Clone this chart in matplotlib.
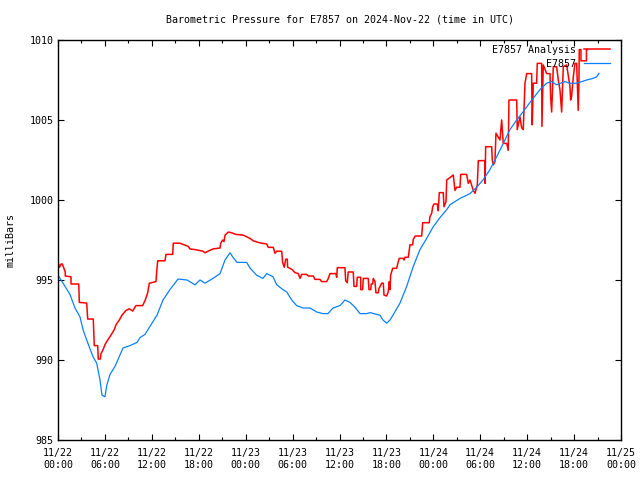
import matplotlib
matplotlib.use("Agg")
import matplotlib.pyplot as plt
from matplotlib.ticker import MultipleLocator, FixedLocator

# hours since 2024-11-22 00:00 UTC
blue_hours = [0.0, 0.90, 1.53, 2.17, 2.81, 3.20, 3.67, 4.48, 4.95, 5.37, 5.63, 6.01, 6.23, 6.65,
              7.29, 8.31, 9.21, 10.10, 10.49, 11.13, 11.76, 12.66, 13.43, 14.32, 15.35, 16.50,
              17.52, 18.16, 18.80, 19.82, 20.72, 21.36, 22.0, 22.4, 22.9, 24.13, 24.55, 25.4,
              26.2, 26.7, 27.5, 27.97, 28.77, 29.25, 29.89, 30.52, 31.33, 32.23, 33.08, 33.89,
              34.53, 35.17, 36.06, 36.70, 37.34, 37.98, 38.62, 39.47, 39.90, 41.18, 41.56, 42.03,
              42.46, 42.84, 43.73, 44.59, 45.40, 46.29, 47.15, 47.95, 48.85, 49.71, 50.13, 51.41,
              52.69, 53.54, 54.35, 55.24, 56.10, 56.91, 57.80, 58.66, 59.46, 60.36, 61.64, 62.49,
              63.13, 63.77, 64.83, 65.47, 66.33, 66.97, 67.61, 68.41, 68.89, 69.18]
blue_mb = [995.3, 994.6, 994.1, 993.25, 992.7, 991.9, 991.25, 990.2, 989.8, 988.75, 987.8, 987.7,
           988.4, 989.1, 989.6, 990.75, 990.9, 991.1, 991.4, 991.6, 992.1, 992.8, 993.75, 994.4,
           995.06, 995.0, 994.7, 995.0, 994.8, 995.1, 995.4, 996.25, 996.7, 996.4, 996.1, 996.1,
           995.75, 995.3, 995.1, 995.4, 995.2, 994.7, 994.4, 994.25, 993.75, 993.4, 993.25,
           993.25, 993.0, 992.9, 992.9, 993.25, 993.4, 993.75, 993.6, 993.3, 992.9, 992.9,
           992.96, 992.8, 992.5, 992.3, 992.5, 992.8, 993.55, 994.6, 995.8, 996.9, 997.6, 998.3,
           998.9, 999.4, 999.7, 1000.1, 1000.4, 1000.8, 1001.25, 1001.9, 1002.7, 1003.5, 1004.4,
           1005.0, 1005.5, 1006.1, 1006.9, 1007.3, 1007.4, 1007.2, 1007.4, 1007.3, 1007.3,
           1007.4, 1007.5, 1007.6, 1007.7, 1007.9]

red_hours = [0.0, 0.2, 0.4, 0.55, 0.93, 0.93, 1.66, 1.66, 2.65, 2.73, 3.67, 3.80, 4.51, 4.64,
             5.08, 5.15, 5.41, 5.50, 5.72, 6.05, 6.36, 6.78, 7.20, 7.42, 7.84, 8.18, 8.70, 9.12,
             9.55, 9.97, 10.83, 11.16, 11.47, 11.68, 12.53, 12.62, 12.75, 13.68, 13.81, 14.67,
             14.74, 15.60, 16.66, 16.88, 17.52, 18.54, 18.80, 19.18, 19.82, 20.72, 20.81, 21.06,
             21.23, 21.36, 21.78, 22.21, 22.76, 23.70, 24.13, 24.55, 24.97, 25.61, 26.05, 26.69,
             26.89, 27.53, 27.75, 27.97, 28.61, 28.73, 28.94, 29.12, 29.32, 29.37, 29.89, 30.31,
             30.73, 30.95, 31.16, 31.80, 32.01, 32.65, 32.86, 33.50, 33.72, 34.36, 34.57, 34.78,
             35.55, 35.64, 35.72, 36.70, 36.79, 36.99, 37.12, 37.76, 37.85, 38.20, 38.27, 38.71,
             38.71, 38.96, 39.04, 39.68, 39.77, 39.99, 40.06, 40.24, 40.32, 40.54, 40.66, 40.96,
             41.05, 41.18, 41.39, 41.60, 41.69, 42.03, 42.24, 42.37, 42.46, 42.54, 42.80, 43.31,
             43.52, 43.64, 44.16, 44.25, 44.37, 44.80, 45.01, 45.36, 45.43, 45.69, 46.51, 46.64,
             47.48, 47.57, 47.79, 47.92, 48.08, 48.50, 48.63, 48.76, 49.27, 49.36, 49.62, 49.71,
             50.55, 50.77, 50.98, 51.41, 51.50, 52.26, 52.47, 52.69, 53.11, 53.33, 53.62, 53.75,
             54.60, 54.62, 54.69, 55.46, 55.54, 55.67, 55.88, 56.01, 56.52, 56.74, 56.94, 57.38,
             57.58, 57.67, 58.66, 58.73, 59.08, 59.30, 59.50, 59.72, 59.94, 60.57, 60.65, 60.78,
             61.21, 61.29, 61.85, 61.89, 62.06, 62.49, 62.92, 63.00, 63.13, 63.26, 63.34, 63.77,
             63.98, 64.19, 64.41, 64.62, 65.05, 65.47, 65.56, 65.69, 65.90, 66.11, 66.33, 66.41,
             66.53, 66.62, 66.66, 66.88, 66.88, 67.58, 67.58, 67.71]
red_mb = [996.1, 995.8, 996.0, 996.0, 995.5, 995.25, 995.2, 994.75, 994.75, 993.6, 993.56, 992.56,
          992.56, 990.9, 990.9, 990.06, 990.06, 990.4, 990.6, 991.0, 991.25, 991.56, 991.9, 992.2,
          992.5, 992.8, 993.1, 993.2, 993.06, 993.4, 993.4, 993.75, 994.2, 994.8, 994.9, 995.5,
          996.2, 996.2, 996.6, 996.6, 997.3, 997.3, 997.1, 996.94, 996.9, 996.8, 996.7, 996.8,
          996.94, 997.0, 997.3, 997.5, 997.4, 997.8, 998.0, 997.95, 997.85, 997.8, 997.7, 997.6,
          997.45, 997.35, 997.3, 997.25, 997.04, 997.04, 996.67, 996.8, 996.8, 996.1, 995.8,
          996.3, 996.3, 995.8, 995.67, 995.46, 995.4, 995.1, 995.35, 995.35, 995.25, 995.25,
          995.04, 995.04, 994.9, 994.9, 995.1, 995.4, 995.4, 995.17, 995.77, 995.77, 994.94,
          994.83, 995.5, 995.5, 994.6, 994.6, 995.17, 995.17, 994.4, 994.4, 995.1, 995.1, 994.4,
          994.4, 994.75, 994.75, 995.1, 994.9, 994.2, 994.2, 994.48, 994.58, 994.8, 994.8, 994.06,
          994.0, 994.27, 994.9, 994.4, 995.3, 995.73, 995.73, 996.15, 996.35, 996.35, 996.25,
          996.42, 996.42, 997.2, 997.2, 997.54, 997.75, 997.75, 998.58, 998.58, 998.96, 999.17,
          999.58, 999.75, 999.75, 999.33, 1000.46, 1000.46, 999.58, 999.9, 1001.25, 1001.56,
          1000.6, 1000.8, 1000.8, 1001.6, 1001.6, 1001.04, 1001.25, 1000.6, 1000.42, 1000.94,
          1002.46, 1002.46, 1001.04, 1003.33, 1003.33, 1002.5, 1002.2, 1002.4, 1004.17, 1003.75,
          1005.0, 1003.54, 1003.54, 1003.1, 1006.25, 1006.25, 1004.4, 1005.2, 1004.5, 1004.4,
          1007.3, 1007.9, 1007.9, 1004.7, 1007.3, 1007.3, 1008.54, 1008.54, 1004.6, 1008.44,
          1007.9, 1007.9, 1006.46, 1005.5, 1007.1, 1008.33, 1008.33, 1007.5, 1006.9, 1005.5,
          1008.33, 1008.44, 1007.1, 1006.25, 1006.5, 1007.7, 1008.54, 1008.54, 1007.3, 1005.6,
          1007.3, 1009.4, 1009.4, 1008.7, 1008.7, 1009.4, 1009.4]

xtick_hours = [0, 6, 12, 18, 24, 30, 36, 42, 48, 54, 60, 66, 72]
xtick_labels = ["11/22\n00:00", "11/22\n06:00", "11/22\n12:00", "11/22\n18:00",
                "11/23\n00:00", "11/23\n06:00", "11/23\n12:00", "11/23\n18:00",
                "11/24\n00:00", "11/24\n06:00", "11/24\n12:00", "11/24\n18:00",
                "11/25\n00:00"]
ytick_values = [985, 990, 995, 1000, 1005, 1010]

title = "Barometric Pressure for E7857 on 2024-Nov-22 (time in UTC)"
series_labels = ["E7857 Analysis", "E7857"]

plt.rcParams['font.family'] = ['DejaVu Sans Mono']
FS = 7.2

fig = plt.figure(figsize=(6.4, 4.8), dpi=100)
ax = fig.add_axes([58/640, 1 - 440/480, (621 - 58)/640, 400/480])

ax.plot(red_hours, red_mb, color='#ff0000', lw=1.1, label=series_labels[0])
ax.plot(blue_hours, blue_mb, color='#0a80ff', lw=0.9, label=series_labels[1])

ax.set_xlim(0, 72)
ax.set_ylim(985, 1010)
ax.xaxis.set_major_locator(FixedLocator(xtick_hours))
ax.set_xticklabels(xtick_labels, fontsize=FS, linespacing=1.25)
ax.xaxis.set_minor_locator(MultipleLocator(3))
ax.yaxis.set_major_locator(FixedLocator(ytick_values))
ax.set_yticklabels([str(v) for v in ytick_values], fontsize=FS)

ax.tick_params(axis='both', which='both', direction='in', top=True, right=True,
               width=0.8, color='black')
ax.tick_params(axis='both', which='major', length=4.5)
ax.tick_params(axis='both', which='minor', length=2.2)
ax.tick_params(axis='x', which='major', pad=6)
ax.tick_params(axis='y', which='major', pad=3)
for s in ax.spines.values():
    s.set_linewidth(1.0)

ax.set_ylabel("milliBars", fontsize=FS, labelpad=10)
ax.set_title(title, fontsize=FS, pad=12.5)

leg = ax.legend(loc='upper right', frameon=False, markerfirst=False, fontsize=FS,
                handlelength=2.6, handletextpad=0.8, labelspacing=0.4,
                borderpad=0.0, borderaxespad=0.0, bbox_to_anchor=(1 - 11/563, 1 - 5/400))

fig.savefig("out.png", dpi=100)
